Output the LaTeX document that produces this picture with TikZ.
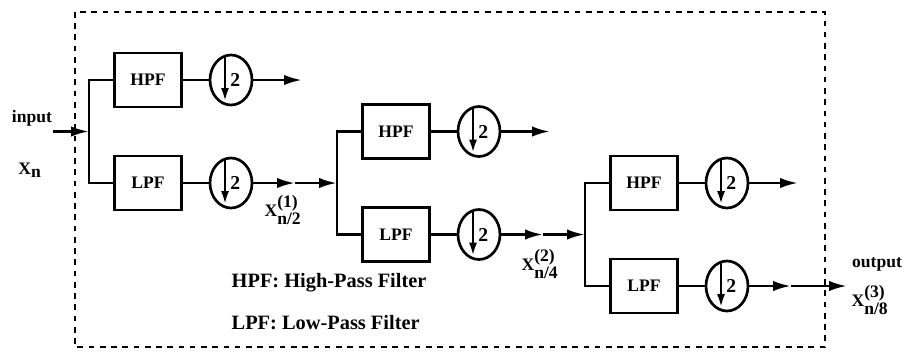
\documentclass[tikz,border=0pt]{standalone}
\usepackage{fontspec}
\setmainfont{Liberation Serif}
\usetikzlibrary{shapes, arrows.meta, positioning}
\newlength{\w}
\setlength{\w}{1.675cm}
\newlength{\h}
\setlength{\h}{1.35cm}
\newlength{\s}
\setlength{\s}{6.2cm}
\newlength{\sy}
\setlength{\sy}{1.2875cm}
\tikzset{filter/.style={draw, line width=1.9pt, minimum width=\w, minimum height=\h, font=\fontsize{12.5}{14}\selectfont\bfseries}}
\tikzset{downsample/.style={draw, ellipse, line width=1.9pt, inner sep=0pt, minimum width=1.05cm, minimum height=1.25cm, font=\fontsize{14}{15}\selectfont\bfseries,
	path picture={\draw[-{Latex[length=0.32cm, width=0.2cm]}, line width=1.6pt] ([xshift=-0.15cm]path picture bounding box.north) -- ([xshift=-0.15cm, yshift=0.1cm]path picture bounding box.south);}}}
\tikzset{conn/.style={line width=1.9pt}}
\tikzset{flow/.style={line width=1.9pt, -{Latex[length=0.45cm, width=0.26cm]}}}
\tikzset{lbl/.style={font=\fontsize{12.5}{14}\selectfont\bfseries, inner sep=1pt}}

\begin{document}
\begin{tikzpicture}
	\useasboundingbox (0,0) rectangle (22.6,-8.825);
	
	%%% NODES %%%
	
	% FRAME
	\draw[line width=1.6pt, dash pattern=on 4pt off 4pt] (1.875,-0.3) rectangle (20.625,-8.675);
	
	% STAGE 1
	\coordinate (in) at (1.325,-3.2875);
	\coordinate (b1) at (2.225,-3.2875);
	\node[filter] at (3.7,-2) (hpf1) {HPF};
	\node[downsample] at (5.775,-2) (ds1h) {\hspace*{0.22cm}2};
	\node[filter] at (3.7cm,-2cm-2\sy) (lpf1) {LPF};
	\node[downsample] at (5.775cm,-2cm-2\sy) (ds1l) {\hspace*{0.22cm}2};
	\coordinate (e1) at (7.55,-2);
	\coordinate (m1) at (7.375cm,-2cm-2\sy);
	
	% STAGE 2
	\coordinate (b2) at (2.225cm+\s,-2cm-2\sy);
	\node[filter] at (3.7cm+\s,-2cm-\sy) (hpf2) {HPF};
	\node[downsample] at (5.775cm+\s,-2cm-\sy) (ds2h) {\hspace*{0.22cm}2};
	\node[filter] at (3.7cm+\s,-2cm-3\sy) (lpf2) {LPF};
	\node[downsample] at (5.775cm+\s,-2cm-3\sy) (ds2l) {\hspace*{0.22cm}2};
	\coordinate (e2) at (7.55cm+\s,-2cm-\sy);
	\coordinate (m2) at (7.375cm+\s,-2cm-3\sy);
	
	% STAGE 3
	\coordinate (b3) at (2.225cm+2\s,-2cm-3\sy);
	\node[filter] at (3.7cm+2\s,-2cm-2\sy) (hpf3) {HPF};
	\node[downsample] at (5.775cm+2\s,-2cm-2\sy) (ds3h) {\hspace*{0.22cm}2};
	\node[filter] at (3.7cm+2\s,-2cm-4\sy) (lpf3) {LPF};
	\node[downsample] at (5.775cm+2\s,-2cm-4\sy) (ds3l) {\hspace*{0.22cm}2};
	\coordinate (e3) at (7.55cm+2\s,-2cm-2\sy);
	\coordinate (m3) at (7.375cm+2\s,-2cm-4\sy);
	\coordinate (out) at (21.175cm,-2cm-4\sy);
	
	% LABELS
	\node[lbl] at (0.8,-2.95) (inlabel) {input};
	\node[lbl] at (0.75,-4.25) (xn) {X$_{\textbf{n}}$};
	\node[lbl] at (7.075,-5.25) (x1) {X$^{\textbf{(1)}}_{\textbf{n/2}}$};
	\node[lbl] at (13.5,-6.6) (x2) {X$^{\textbf{(2)}}_{\textbf{n/4}}$};
	\node[lbl] at (21.925,-6.6) (outlabel) {output};
	\node[lbl] at (21.75,-7.5) (x3) {X$^{\textbf{(3)}}_{\textbf{n/8}}$};
	\node[lbl, anchor=west, font=\fontsize{14.5}{16}\selectfont\bfseries] at (5.75,-7.075) (hpfkey) {HPF: High-Pass Filter};
	\node[lbl, anchor=west, font=\fontsize{14.5}{16}\selectfont\bfseries] at (5.75,-8.075) (lpfkey) {LPF: Low-Pass Filter};
	
	%%% ARROWS %%%
	
	% STAGE 1
	\draw[flow] (in) -- (b1);
	\draw[conn] (b1) |- (hpf1);
	\draw[conn] (b1) |- (lpf1);
	\draw[conn] (hpf1) -- (ds1h);
	\draw[conn] (lpf1) -- (ds1l);
	\draw[flow] (ds1h) -- (e1);
	\draw[flow] (ds1l) -- (m1);
	\draw[flow] (m1) -- (b2);
	
	% STAGE 2
	\draw[conn] (b2) |- (hpf2);
	\draw[conn] (b2) |- (lpf2);
	\draw[conn] (hpf2) -- (ds2h);
	\draw[conn] (lpf2) -- (ds2l);
	\draw[flow] (ds2h) -- (e2);
	\draw[flow] (ds2l) -- (m2);
	\draw[flow] (m2) -- (b3);
	
	% STAGE 3
	\draw[conn] (b3) |- (hpf3);
	\draw[conn] (b3) |- (lpf3);
	\draw[conn] (hpf3) -- (ds3h);
	\draw[conn] (lpf3) -- (ds3l);
	\draw[flow] (ds3h) -- (e3);
	\draw[flow] (ds3l) -- (m3);
	\draw[flow] (m3) -- (out);
	
\end{tikzpicture}
\end{document}
